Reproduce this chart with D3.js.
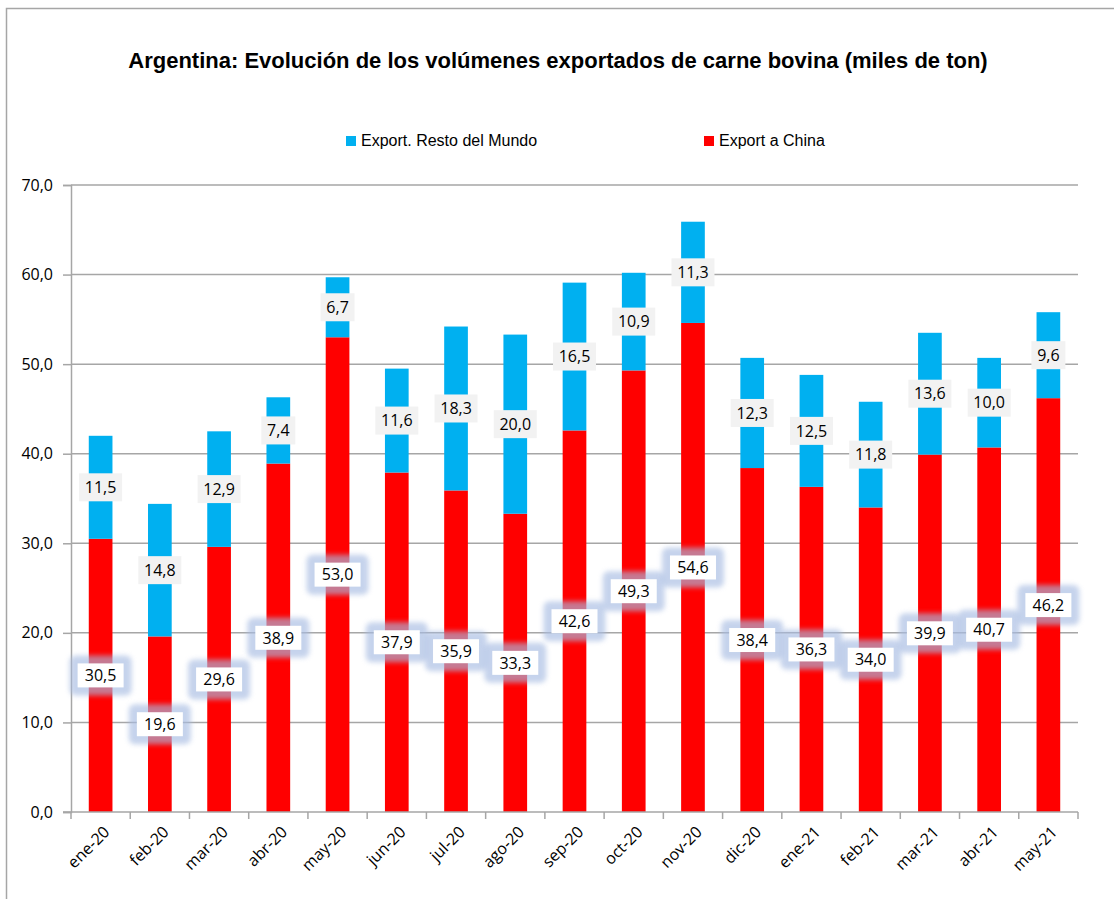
<!DOCTYPE html>
<html>
<head>
<meta charset="utf-8">
<script src="https://cdn.jsdelivr.net/npm/d3@7"></script>
<style>
  body { margin: 0; background: #fff; }
  text { font-family: "Liberation Sans Narrow", "Arial Narrow", "Liberation Sans", sans-serif; }
  .num { font-family: "Open Sans", "Noto Sans", sans-serif; }
</style>
</head>
<body>
<div id="chart"></div>
<script>
var width = 1114;
var height = 899;

var months = ["ene-20", "feb-20", "mar-20", "abr-20", "may-20", "jun-20", "jul-20", "ago-20", "sep-20",
    "oct-20", "nov-20", "dic-20", "ene-21", "feb-21", "mar-21", "abr-21", "may-21"];
var china = [30.5, 19.6, 29.6, 38.9, 53.0, 37.9, 35.9, 33.3, 42.6, 49.3, 54.6, 38.4, 36.3, 34.0, 39.9, 40.7, 46.2];
var resto = [11.5, 14.8, 12.9, 7.4, 6.7, 11.6, 18.3, 20.0, 16.5, 10.9, 11.3, 12.3, 12.5, 11.8, 13.6, 10.0, 9.6];
var yTicks = [0, 10, 20, 30, 40, 50, 60, 70];

var fmt = v => v.toFixed(1).replace(".", ",");

var margin = {left: 71, right: 36, top: 185, bottom: 87};

var svg = d3.select("#chart")
    .append("svg")
    .attr("width", width)
    .attr("height", height);

// outer frame (right and bottom fall outside the picture)
svg.append("rect")
    .attr("x", 6.5).attr("y", 8.5)
    .attr("width", width + 10).attr("height", height + 10)
    .style("fill", "none")
    .style("stroke", "#a6a6a6")
    .style("stroke-width", 1.5);

var defs = svg.append("defs");
var glow = defs.append("filter")
    .attr("id", "glow")
    .attr("x", "-50%").attr("y", "-50%")
    .attr("width", "200%").attr("height", "200%");
glow.append("feGaussianBlur").attr("stdDeviation", 2.5);

var x = d3.scaleBand()
    .domain(months)
    .range([margin.left, width - margin.right])
    .paddingInner(0.6)
    .paddingOuter(0.3);

var y = d3.scaleLinear()
    .domain([0, 70])
    .range([height - margin.bottom, margin.top]);

// gridlines
svg.append("g")
    .selectAll("line")
    .data(yTicks.slice(1))
    .enter()
    .append("line")
        .attr("x1", margin.left)
        .attr("x2", width - margin.right)
        .attr("y1", d => y(d))
        .attr("y2", d => y(d))
        .style("stroke", "#a6a6a6")
        .style("stroke-width", 1.5);

// y axis
var yAxis = svg.append("g")
    .attr("transform", `translate(${margin.left},0)`)
    .call(d3.axisLeft(y).tickValues(yTicks).tickFormat(fmt).tickSize(8).tickPadding(10));
yAxis.select(".domain").style("stroke", "#a6a6a6").style("stroke-width", 1.5);
yAxis.selectAll(".tick line").style("stroke", "#a6a6a6").style("stroke-width", 1.5);
yAxis.selectAll("text")
    .attr("class", "num")
    .style("font-size", "16px")
    .style("fill", "#000");

// bars
var rows = months.map((m, i) => ({m: m, china: china[i], resto: resto[i]}));

svg.append("g")
    .selectAll("rect")
    .data(rows)
    .enter()
    .append("rect")
        .attr("x", d => x(d.m))
        .attr("width", x.bandwidth())
        .attr("y", d => y(d.china))
        .attr("height", d => y(0) - y(d.china))
        .style("fill", "#ff0000");

svg.append("g")
    .selectAll("rect")
    .data(rows)
    .enter()
    .append("rect")
        .attr("x", d => x(d.m))
        .attr("width", x.bandwidth())
        .attr("y", d => y(d.china + d.resto))
        .attr("height", d => y(d.china) - y(d.china + d.resto))
        .style("fill", "#00b0f0");

// x axis
var step = x.step();
var xAxis = svg.append("g")
    .attr("transform", `translate(0,${y(0)})`);
xAxis.append("line")
    .attr("x1", margin.left - 8).attr("x2", width - margin.right)
    .style("stroke", "#a6a6a6").style("stroke-width", 1.5);
xAxis.selectAll(".tk")
    .data(d3.range(months.length + 1))
    .enter()
    .append("line")
        .attr("x1", i => margin.left + i * step)
        .attr("x2", i => margin.left + i * step)
        .attr("y1", 0).attr("y2", 7)
        .style("stroke", "#a6a6a6").style("stroke-width", 1.5);
xAxis.selectAll("text")
    .data(months)
    .enter()
    .append("text")
        .attr("class", "num")
        .attr("transform", d => `translate(${x(d) + x.bandwidth() / 2 + 6},${17}) rotate(-45)`)
        .attr("text-anchor", "end")
        .attr("dy", "0.35em")
        .style("font-size", "16px")
        .text(d => d);

// labels: China (white box with blue glow)
var lw = 46, lh = 24;
var chinaLab = svg.append("g")
    .selectAll("g")
    .data(rows)
    .enter()
    .append("g")
        .attr("transform", d => `translate(${x(d.m) + x.bandwidth() / 2},${y(d.china / 2)})`);
chinaLab.append("rect")
    .attr("x", -lw / 2 - 8).attr("y", -lh / 2 - 8)
    .attr("width", lw + 16).attr("height", lh + 16)
    .attr("rx", 6)
    .attr("filter", "url(#glow)")
    .style("fill", "#a7bce2")
    .style("opacity", 0.65);
chinaLab.append("rect")
    .attr("x", -lw / 2).attr("y", -lh / 2)
    .attr("width", lw).attr("height", lh)
    .style("fill", "#fff");
chinaLab.append("text")
    .attr("class", "num")
    .attr("text-anchor", "middle")
    .attr("dy", "0.36em")
    .style("font-size", "16px")
    .text(d => fmt(d.china));

// labels: Resto del Mundo (grey box)
var restoLab = svg.append("g")
    .selectAll("g")
    .data(rows)
    .enter()
    .append("g")
        .attr("transform", d => `translate(${x(d.m) + x.bandwidth() / 2},${y(d.china + d.resto / 2)})`);
restoLab.append("rect")
    .attr("x", d => -(d.resto < 10 ? 34 : 43) / 2)
    .attr("width", d => d.resto < 10 ? 34 : 43)
    .attr("y", -14)
    .attr("height", 28)
    .style("fill", "#f2f2f2");
restoLab.append("text")
    .attr("class", "num")
    .attr("text-anchor", "middle")
    .attr("dy", "0.36em")
    .style("font-size", "16px")
    .text(d => fmt(d.resto));

// title
svg.append("text")
    .attr("x", 558)
    .attr("y", 68)
    .attr("text-anchor", "middle")
    .style("font-size", "22px")
    .style("font-weight", "bold")
    .text("Argentina: Evolución de los volúmenes exportados de carne bovina (miles de ton)");

// legend
var legend = [
    {name: "Export. Resto del Mundo", color: "#00b0f0", x: 346},
    {name: "Export a China", color: "#ff0000", x: 704}
];
var lg = svg.append("g")
    .selectAll("g")
    .data(legend)
    .enter()
    .append("g")
        .attr("transform", d => `translate(${d.x},136)`);
lg.append("rect")
    .attr("width", 10).attr("height", 10)
    .style("fill", d => d.color);
lg.append("text")
    .attr("x", 15).attr("y", 10)
    .style("font-size", "16px")
    .text(d => d.name);
</script>
</body>
</html>
